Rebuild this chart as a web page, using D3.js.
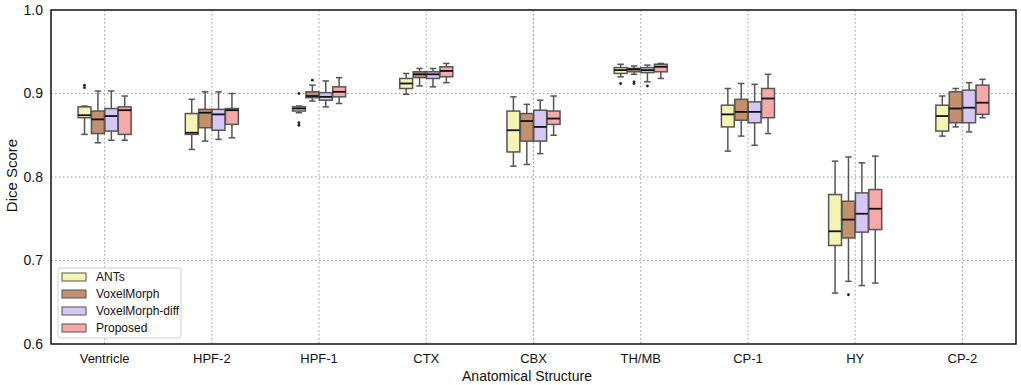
<!DOCTYPE html>
<html>
<head>
<meta charset="utf-8">
<script src="https://cdn.jsdelivr.net/npm/d3@7"></script>
<style>
  body { margin: 0; background: #fff; }
  text { font-family: "Liberation Sans", Arial, sans-serif; }
</style>
</head>
<body>
<div id="container"></div>
<script>
let w = 1021;
let h = 385;
let margin = {top: 10, right: 5, bottom: 41, left: 51};

// DATA
let categories = ["Ventricle", "HPF-2", "HPF-1", "CTX", "CBX", "TH/MB", "CP-1", "HY", "CP-2"];
let methods = ["ANTs", "VoxelMorph", "VoxelMorph-diff", "Proposed"];
let colors = ["#f4f3b1", "#c38f6c", "#d5c6f5", "#f5a9a9"];
let yTicks = [0.6, 0.7, 0.8, 0.9, 1.0];

// per category: [lower whisker, q1, median, q3, upper whisker]
let antsStats = [
  [0.851, 0.871, 0.874, 0.884, 0.885],
  [0.833, 0.851, 0.853, 0.876, 0.893],
  [0.877, 0.879, 0.882, 0.884, 0.885],
  [0.899, 0.906, 0.912, 0.918, 0.924],
  [0.813, 0.830, 0.856, 0.879, 0.896],
  [0.920, 0.924, 0.928, 0.931, 0.935],
  [0.831, 0.860, 0.875, 0.886, 0.906],
  [0.661, 0.718, 0.735, 0.779, 0.819],
  [0.849, 0.855, 0.873, 0.886, 0.897]
];
let voxelMorphStats = [
  [0.841, 0.852, 0.869, 0.879, 0.903],
  [0.843, 0.859, 0.877, 0.881, 0.902],
  [0.891, 0.895, 0.897, 0.902, 0.910],
  [0.909, 0.919, 0.923, 0.926, 0.930],
  [0.815, 0.843, 0.867, 0.876, 0.887],
  [0.923, 0.926, 0.929, 0.930, 0.933],
  [0.849, 0.868, 0.878, 0.893, 0.912],
  [0.675, 0.727, 0.749, 0.771, 0.824],
  [0.860, 0.865, 0.882, 0.902, 0.906]
];
let voxelMorphDiffStats = [
  [0.844, 0.855, 0.873, 0.882, 0.903],
  [0.845, 0.856, 0.875, 0.881, 0.902],
  [0.884, 0.892, 0.896, 0.901, 0.915],
  [0.908, 0.918, 0.923, 0.926, 0.930],
  [0.828, 0.843, 0.860, 0.880, 0.892],
  [0.914, 0.925, 0.928, 0.931, 0.934],
  [0.838, 0.865, 0.878, 0.890, 0.911],
  [0.670, 0.734, 0.756, 0.781, 0.817],
  [0.854, 0.865, 0.883, 0.904, 0.913]
];
let proposedStats = [
  [0.844, 0.851, 0.880, 0.884, 0.897],
  [0.847, 0.863, 0.880, 0.882, 0.900],
  [0.888, 0.896, 0.902, 0.908, 0.919],
  [0.913, 0.920, 0.927, 0.932, 0.936],
  [0.850, 0.863, 0.870, 0.879, 0.897],
  [0.918, 0.926, 0.932, 0.935, 0.936],
  [0.852, 0.871, 0.894, 0.906, 0.923],
  [0.673, 0.737, 0.762, 0.785, 0.825],
  [0.871, 0.875, 0.889, 0.910, 0.917]
];
// outliers: [category, method index, value]
let outliers = [
  ["Ventricle", 0, 0.907], ["Ventricle", 0, 0.910],
  ["HPF-1", 0, 0.900], ["HPF-1", 0, 0.862], ["HPF-1", 0, 0.865],
  ["HPF-1", 1, 0.916],
  ["TH/MB", 0, 0.912], ["TH/MB", 1, 0.914], ["TH/MB", 1, 0.912],
  ["TH/MB", 2, 0.909],
  ["HY", 1, 0.659]
];

let allStats = [antsStats, voxelMorphStats, voxelMorphDiffStats, proposedStats];

// SVG
let viz = d3.select("#container").append("svg")
    .attr("width", w)
    .attr("height", h)
    .style("display", "block");

let x = d3.scaleBand().domain(categories).range([margin.left, w - margin.right]).padding(0);
let y = d3.scaleLinear().domain([0.6, 1.0]).range([h - margin.bottom, margin.top]);
let groupWidth = x.bandwidth() * 0.5;
let inner = d3.scaleBand().domain(d3.range(methods.length)).range([-groupWidth / 2, groupWidth / 2]).padding(0);

// grid
viz.append("g").selectAll("line").data(categories).join("line")
    .attr("x1", d => x(d) + x.bandwidth() / 2).attr("x2", d => x(d) + x.bandwidth() / 2)
    .attr("y1", margin.top).attr("y2", h - margin.bottom)
    .attr("stroke", "#999").attr("stroke-width", 1).attr("stroke-dasharray", "1.5,2.5");
viz.append("g").selectAll("line").data([0.7, 0.8, 0.9]).join("line")
    .attr("x1", margin.left).attr("x2", w - margin.right)
    .attr("y1", d => y(d)).attr("y2", d => y(d))
    .attr("stroke", "#999").attr("stroke-width", 1).attr("stroke-dasharray", "1.5,2.5");

// boxes
let edge = "#555555";
allStats.forEach((stats, m) => {
  let g = viz.append("g");
  stats.forEach((s, i) => {
    let cx = x(categories[i]) + x.bandwidth() / 2 + inner(m) + inner.bandwidth() / 2;
    let bw = inner.bandwidth() * 0.96;
    // whiskers
    g.append("line").attr("x1", cx).attr("x2", cx).attr("y1", y(s[0])).attr("y2", y(s[1]))
        .attr("stroke", edge).attr("stroke-width", 1.5);
    g.append("line").attr("x1", cx).attr("x2", cx).attr("y1", y(s[3])).attr("y2", y(s[4]))
        .attr("stroke", edge).attr("stroke-width", 1.5);
    [s[0], s[4]].forEach(v => {
      g.append("line").attr("x1", cx - bw / 4).attr("x2", cx + bw / 4).attr("y1", y(v)).attr("y2", y(v))
          .attr("stroke", edge).attr("stroke-width", 1.5);
    });
    g.append("rect")
        .attr("x", cx - bw / 2).attr("width", bw)
        .attr("y", y(s[3])).attr("height", Math.max(1, y(s[1]) - y(s[3])))
        .attr("fill", colors[m]).attr("stroke", edge).attr("stroke-width", 1.5);
    g.append("line").attr("x1", cx - bw / 2).attr("x2", cx + bw / 2).attr("y1", y(s[2])).attr("y2", y(s[2]))
        .attr("stroke", "#111").attr("stroke-width", 1.8);
  });
});

// outliers
viz.append("g").selectAll("circle").data(outliers).join("circle")
    .attr("cx", d => x(d[0]) + x.bandwidth() / 2 + inner(d[1]) + inner.bandwidth() / 2)
    .attr("cy", d => y(d[2]))
    .attr("r", 1.4).attr("fill", "#222");

// frame
viz.append("rect")
    .attr("x", margin.left).attr("y", margin.top)
    .attr("width", w - margin.left - margin.right).attr("height", h - margin.top - margin.bottom)
    .attr("fill", "none").attr("stroke", "#111").attr("stroke-width", 1.5);

// axes labels
viz.append("g").selectAll("text").data(yTicks).join("text")
    .attr("x", margin.left - 8).attr("y", d => y(d)).attr("dy", "0.35em")
    .attr("text-anchor", "end").attr("font-size", 14).attr("fill", "#111")
    .text(d => d3.format(".1f")(d));
viz.append("g").selectAll("text").data(categories).join("text")
    .attr("x", d => x(d) + x.bandwidth() / 2).attr("y", h - margin.bottom + 19)
    .attr("text-anchor", "middle").attr("font-size", 13).attr("fill", "#111")
    .text(d => d);
viz.append("text")
    .attr("x", 527).attr("y", 381)
    .attr("text-anchor", "middle").attr("font-size", 14).attr("fill", "#111")
    .text("Anatomical Structure");
viz.append("text")
    .attr("transform", "translate(17, 175.5) rotate(-90)")
    .attr("text-anchor", "middle").attr("font-size", 15).attr("fill", "#111")
    .text("Dice Score");

// legend
let legend = viz.append("g").attr("transform", "translate(58, 268)");
legend.append("rect").attr("width", 123).attr("height", 70).attr("rx", 3)
    .attr("fill", "#fff").attr("fill-opacity", 0.85).attr("stroke", "#d0d0d0");
methods.forEach((name, m) => {
  let row = legend.append("g").attr("transform", `translate(4, ${5 + m * 17})`);
  row.append("rect").attr("width", 24).attr("height", 8)
      .attr("fill", colors[m]).attr("stroke", edge).attr("stroke-width", 1);
  row.append("text").attr("x", 34).attr("y", 4).attr("dy", "0.35em")
      .attr("font-size", 12).attr("fill", "#111").text(name);
});
</script>
</body>
</html>
